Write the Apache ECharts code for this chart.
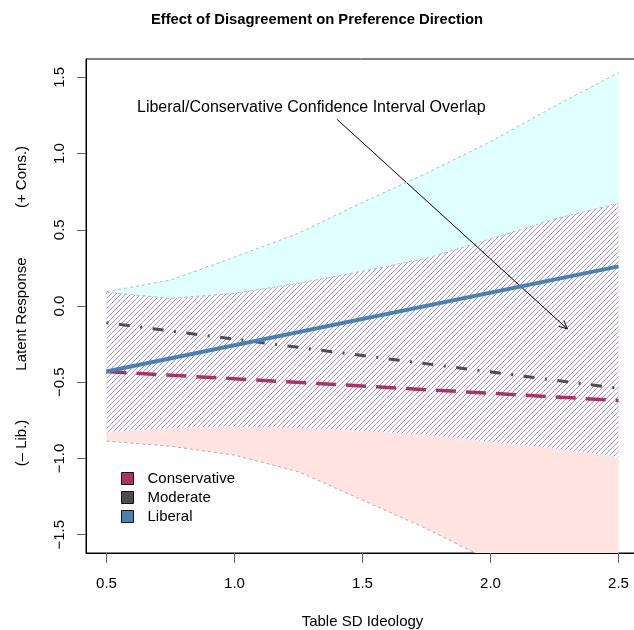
<!DOCTYPE html>
<html>
<head>
<meta charset="utf-8">
<script src="https://cdn.jsdelivr.net/npm/echarts@6/dist/echarts.min.js"></script>
<style>html,body{margin:0;padding:0;background:#fff}#chart{width:634px;height:630px}</style>
</head>
<body>
<div id="chart"></div>
<script>
// ---- data ----
const bandX = [0.5, 0.75, 1.0, 1.25, 1.5, 1.75, 2.0, 2.25, 2.5];
const liberalUpper = [0.094, 0.17, 0.32, 0.477, 0.68, 0.87, 1.078, 1.31, 1.53];
const liberalLower = [-0.83, -0.80, -0.79, -0.80, -0.82, -0.845, -0.89, -0.934, -0.99];
const conservativeUpper = [0.09, 0.05, 0.083, 0.149, 0.228, 0.313, 0.44, 0.57, 0.674];
const conservativeLower = [-0.886, -0.92, -0.978, -1.087, -1.273, -1.46, -1.67, -1.86, -2.03];

const lineX = [0.5, 2.5];
const conservativeY = [-0.43, -0.62];
const moderateY = [-0.11, -0.54];
const liberalY = [-0.43, 0.26];

const xTicks = [0.5, 1.0, 1.5, 2.0, 2.5];
const yTicks = [-1.5, -1.0, -0.5, 0.0, 0.5, 1.0, 1.5];

const annotText = 'Liberal/Conservative Confidence Interval Overlap';
const annotPos = [1.3, 1.3];
const arrowFrom = [1.4, 1.225];
const arrowTo = [2.3, -0.15];

const FONT = 'Liberation Sans, Arial, Helvetica, sans-serif';

// hatch pattern
const hatch = document.createElement('canvas');
hatch.width = 5; hatch.height = 5;
(function () {
  const c = hatch.getContext('2d');
  c.strokeStyle = '#ad95f4';
  c.lineWidth = 1;
  c.beginPath();
  c.moveTo(-1, 6); c.lineTo(6, -1);
  c.moveTo(-1, 1); c.lineTo(1, -1);
  c.moveTo(4, 6); c.lineTo(6, 4);
  c.stroke();
})();

function bandPoints(api, upper, lower) {
  const pts = [];
  for (let i = 0; i < bandX.length; i++) pts.push(api.coord([bandX[i], upper[i]]));
  for (let i = bandX.length - 1; i >= 0; i--) pts.push(api.coord([bandX[i], lower[i]]));
  return pts;
}
function clipRect(params) {
  const cs = params.coordSys;
  return { type: 'rect', shape: { x: cs.x, y: cs.y, width: cs.width, height: cs.height } };
}
function bandSeries(upper, lower, fills) {
  return {
    type: 'custom', silent: true, data: [[bandX[0], upper[0]]],
    renderItem: function (params, api) {
      const pts = bandPoints(api, upper, lower);
      return {
        type: 'group', clipPath: clipRect(params),
        children: fills.map(f => ({ type: 'polygon', shape: { points: pts }, style: { fill: f, stroke: null } }))
      };
    }
  };
}
function boundary(vals, color) {
  return {
    type: 'line', silent: true, symbol: 'none',
    data: bandX.map((x, i) => [x, vals[i]]),
    lineStyle: { color: color, width: 1, type: [3, 3] }
  };
}
const pair = (xs, ys) => xs.map((x, i) => [x, ys[i]]);
const fmt = v => v.toFixed(1).replace('-', '\u2212');

const chart = echarts.init(document.getElementById('chart'), null, { renderer: 'canvas' });
chart.setOption({
  animation: false,
  backgroundColor: '#fff',
  title: {
    text: 'Effect of Disagreement on Preference Direction',
    left: 'center', top: 12, padding: 0,
    textStyle: { fontSize: 14.8, fontWeight: 'bold', color: '#000', fontFamily: FONT }
  },
  grid: { left: 86, top: 59, bottom: 77, width: 553, containLabel: false, outerBoundsMode: 'none', show: true, borderColor: '#000', borderWidth: 1, backgroundColor: 'transparent' },
  legend: {
    orient: 'vertical', left: 121, top: 471, padding: 0, icon: 'rect',
    itemWidth: 12, itemHeight: 12, itemGap: 4, selectedMode: false,
    itemStyle: { borderColor: '#111', borderWidth: 1, borderType: 'solid' },
    textStyle: { fontSize: 15, color: '#000', fontFamily: FONT, padding: [0, 0, 0, 9] },
    data: [
      { name: 'Conservative', itemStyle: { color: '#B03060' } },
      { name: 'Moderate', itemStyle: { color: '#4D4D4D' } },
      { name: 'Liberal', itemStyle: { color: '#4682B4' } }
    ]
  },
  xAxis: {
    type: 'value', min: 0.42, max: 2.58, z: 10,
    axisLine: { show: true, onZero: false, lineStyle: { color: '#000', width: 1 } },
    axisTick: { show: true, customValues: xTicks, length: 10, lineStyle: { color: '#666' } },
    axisLabel: { customValues: xTicks, formatter: fmt, margin: 23, fontSize: 15, color: '#000', fontFamily: FONT },
    splitLine: { show: false },
    name: 'Table SD Ideology', nameLocation: 'middle', nameGap: 61,
    nameTextStyle: { fontSize: 15, color: '#000', fontFamily: FONT }
  },
  yAxis: {
    type: 'value', min: -1.62, max: 1.62, z: 10,
    axisLine: { show: true, onZero: false, lineStyle: { color: '#000', width: 1 } },
    axisTick: { show: true, customValues: yTicks, length: 9, lineStyle: { color: '#666' } },
    axisLabel: { customValues: yTicks, formatter: fmt, rotate: 90, margin: 19, fontSize: 15, color: '#000', fontFamily: FONT },
    splitLine: { show: false }
  },
  graphic: [
    { type: 'text', x: 22, y: 177, rotation: Math.PI / 2, style: { text: '(+ Cons.)', fontSize: 15, fontFamily: FONT, fill: '#000', align: 'center', verticalAlign: 'middle' } },
    { type: 'text', x: 22, y: 314, rotation: Math.PI / 2, style: { text: 'Latent Response', fontSize: 15, fontFamily: FONT, fill: '#000', align: 'center', verticalAlign: 'middle' } },
    { type: 'text', x: 22, y: 443, rotation: Math.PI / 2, style: { text: '(\u2013 Lib.)', fontSize: 15, fontFamily: FONT, fill: '#000', align: 'center', verticalAlign: 'middle' } }
  ],
  series: [
    bandSeries(conservativeUpper, conservativeLower, ['#FFE4E1']),
    bandSeries(liberalUpper, liberalLower, ['#E0FFFF']),
    bandSeries(conservativeUpper, liberalLower, ['#FFFFFF', { image: hatch, repeat: 'repeat' }]),
    boundary(liberalUpper, '#b0b4dc'),
    boundary(conservativeUpper, '#b8b0dc'),
    boundary(conservativeLower, '#bca8a8'),
    {
      name: 'Conservative', type: 'line', symbol: 'none', data: pair(lineX, conservativeY),
      itemStyle: { color: '#B03060' },
      lineStyle: { color: '#B03060', width: 3.5, type: [20, 10], cap: 'butt' }
    },
    {
      name: 'Moderate', type: 'line', symbol: 'none', data: pair(lineX, moderateY),
      itemStyle: { color: '#4D4D4D' },
      lineStyle: { color: '#4D4D4D', width: 3, type: [2, 10.5, 11, 10.5], cap: 'butt' }
    },
    {
      name: 'Liberal', type: 'line', symbol: 'none', data: pair(lineX, liberalY),
      itemStyle: { color: '#4682B4' },
      lineStyle: { color: '#4682B4', width: 4, type: 'solid' }
    },
    {
      type: 'custom', silent: true, data: [annotPos],
      renderItem: function (params, api) {
        const p1 = api.coord(arrowFrom), p2 = api.coord(arrowTo), t = api.coord(annotPos);
        const ang = Math.atan2(p2[1] - p1[1], p2[0] - p1[0]);
        const L = 9, A = Math.PI / 7;
        const h1 = [p2[0] - L * Math.cos(ang - A), p2[1] - L * Math.sin(ang - A)];
        const h2 = [p2[0] - L * Math.cos(ang + A), p2[1] - L * Math.sin(ang + A)];
        return {
          type: 'group', children: [
            { type: 'line', shape: { x1: p1[0], y1: p1[1], x2: p2[0], y2: p2[1] }, style: { stroke: '#000', lineWidth: 1 } },
            { type: 'polyline', shape: { points: [h1, p2, h2] }, style: { stroke: '#000', lineWidth: 1, fill: null } },
            { type: 'text', x: t[0], y: t[1], style: { text: annotText, fontSize: 16, fontFamily: FONT, fill: '#000', align: 'center', verticalAlign: 'middle' } }
          ]
        };
      }
    }
  ]
});
</script>
</body>
</html>
